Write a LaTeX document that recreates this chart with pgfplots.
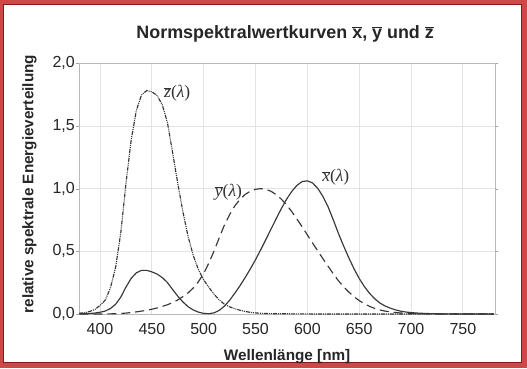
\documentclass[border=0pt]{standalone}
\usepackage{pgfplots}
\usepackage{pgfplotstable}
\pgfplotsset{compat=1.18}
\usepackage{fontspec}
\setmainfont{Liberation Sans}
\newfontfamily\serifit{Liberation Serif}
\definecolor{framered}{RGB}{206,72,72}
\definecolor{framedark}{RGB}{135,25,30}
\definecolor{curve}{RGB}{55,55,55}
\newcommand\ovl[1]{$\overline{\mbox{#1}}$}
\newcommand\clab[1]{{\serifit $\overline{\mbox{\itshape #1}}$(\itshape λ\upshape)}}
\pgfplotstableread{
lambda xbar ybar zbar
380 0.001368 0.000039 0.006450
385 0.002236 0.000064 0.010550
390 0.004243 0.000120 0.020050
395 0.007650 0.000217 0.036210
400 0.014310 0.000396 0.067850
405 0.023190 0.000640 0.110200
410 0.043510 0.001210 0.207400
415 0.077630 0.002180 0.371300
420 0.134380 0.004000 0.645600
425 0.214770 0.007300 1.039050
430 0.283900 0.011600 1.385600
435 0.328500 0.016840 1.622960
440 0.348280 0.023000 1.747060
445 0.348060 0.029800 1.782600
450 0.336200 0.038000 1.772110
455 0.318700 0.048000 1.744100
460 0.290800 0.060000 1.669200
465 0.251100 0.073900 1.528100
470 0.195360 0.090980 1.287640
475 0.142100 0.112600 1.041900
480 0.095640 0.139020 0.812950
485 0.057950 0.169300 0.616200
490 0.032010 0.208020 0.465180
495 0.014700 0.258600 0.353300
500 0.004900 0.323000 0.272000
505 0.002400 0.407300 0.212300
510 0.009300 0.503000 0.158200
515 0.029100 0.608200 0.111700
520 0.063270 0.710000 0.078250
525 0.109600 0.793200 0.057250
530 0.165500 0.862000 0.042160
535 0.225750 0.914850 0.029840
540 0.290400 0.954000 0.020300
545 0.359700 0.980300 0.013400
550 0.433450 0.994950 0.008750
555 0.512050 1.000000 0.005750
560 0.594500 0.995000 0.003900
565 0.678400 0.978600 0.002750
570 0.762100 0.952000 0.002100
575 0.842500 0.915400 0.001800
580 0.916300 0.870000 0.001650
585 0.978600 0.816300 0.001400
590 1.026300 0.757000 0.001100
595 1.056700 0.694900 0.001000
600 1.062200 0.631000 0.000800
605 1.045600 0.566800 0.000600
610 1.002600 0.503000 0.000340
615 0.938400 0.441200 0.000240
620 0.854450 0.381000 0.000190
625 0.751400 0.321000 0.000100
630 0.642400 0.265000 0.000050
635 0.541900 0.217000 0.000030
640 0.447900 0.175000 0.000020
645 0.360800 0.138200 0.000010
650 0.283500 0.107000 0
655 0.218700 0.081600 0
660 0.164900 0.061000 0
665 0.121200 0.044580 0
670 0.087400 0.032000 0
675 0.063600 0.023200 0
680 0.046770 0.017000 0
685 0.032900 0.011920 0
690 0.022700 0.008210 0
695 0.015840 0.005723 0
700 0.011359 0.004102 0
705 0.008111 0.002929 0
710 0.005790 0.002091 0
715 0.004109 0.001484 0
720 0.002899 0.001047 0
725 0.002049 0.000740 0
730 0.001440 0.000520 0
735 0.001000 0.000361 0
740 0.000690 0.000249 0
745 0.000476 0.000172 0
750 0.000332 0.000120 0
755 0.000235 0.000085 0
760 0.000166 0.000060 0
765 0.000117 0.000042 0
770 0.000083 0.000030 0
775 0.000059 0.000021 0
780 0.000042 0.000015 0
}\cie
\begin{document}
\begin{tikzpicture}
\useasboundingbox (-79.3pt,-54pt) rectangle (447.7pt,314pt);
\fill[framered] (-79.3pt,-54pt) rectangle (447.7pt,314pt);
\filldraw[fill=white, draw=framedark, line width=1pt] (-75.3pt,-48.3pt) rectangle (442.4pt,310pt);
\begin{axis}[
  at={(0pt,0pt)}, anchor=south west,
  scale only axis, width=415.7pt, height=250.7pt,
  xmin=380, xmax=781, ymin=0, ymax=2,
  xtick={400,450,...,750}, ytick={0,0.5,...,2},
  grid=major, grid style={gray!22, line width=0.8pt},
  axis line style={gray!55, line width=0.7pt},
  tick align=outside, major tick length=3pt,
  xtick style={draw=none}, ytick style={gray!70},
  /pgf/number format/assume math mode=true,
  yticklabel style={/pgf/number format/.cd, fixed, fixed zerofill, precision=1, use comma, /tikz/.cd, xshift=2pt},
  xticklabel style={/pgf/number format/.cd, 1000 sep={}, /tikz/.cd, yshift=-3pt},
  tick label style={font=\fontsize{16}{18}\selectfont, text=black!85},
  title={Normspektralwertkurven \ovl{x}, \ovl{y} und \ovl{z}},
  title style={at={(0.5,1)}, anchor=base, yshift=19pt, xshift=-2pt, font=\fontsize{17.9}{20}\selectfont\bfseries, text=black!85},
  xlabel={Wellenlänge [nm]},
  xlabel style={at={(0.5,0)}, anchor=base, yshift=-46pt, font=\fontsize{15.3}{18}\selectfont\bfseries, text=black!85},
  ylabel={relative spektrale Energieverteilung},
  ylabel style={at={(-0.1107,0.518)}, anchor=base, font=\fontsize{15.3}{18}\selectfont\bfseries, text=black!85},
]
\addplot[curve, line width=1.15pt] table[x=lambda, y=xbar] {\cie};
\addplot[curve, line width=1.15pt, dash pattern=on 9pt off 5pt] table[x=lambda, y=ybar] {\cie};
\addplot[curve, line width=1.15pt, dash pattern=on 4pt off 1pt on 1pt off 1pt on 1pt off 1pt] table[x=lambda, y=zbar] {\cie};
\node[font=\fontsize{17.5}{20}\selectfont, text=black!80] at (axis cs:474.5,1.763) {\clab{z}};
\node[font=\fontsize{17.5}{20}\selectfont, text=black!80] at (axis cs:523.9,0.973) {\clab{y}};
\node[font=\fontsize{17.5}{20}\selectfont, text=black!80] at (axis cs:627.4,1.093) {\clab{x}};
\end{axis}
\end{tikzpicture}
\end{document}
